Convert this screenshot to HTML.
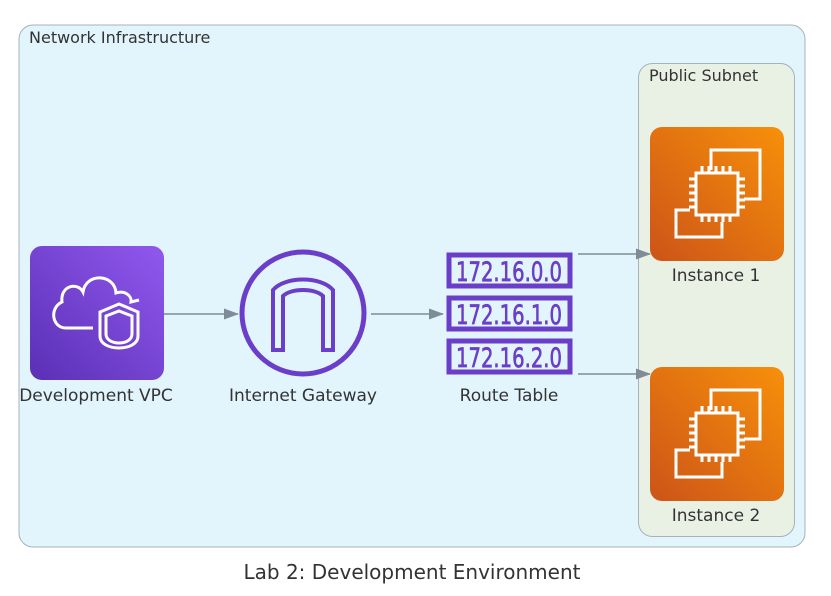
<!DOCTYPE html>
<html><head><meta charset="utf-8"><style>html,body{margin:0;padding:0;background:#fff}svg{display:block}text{font-family:"DejaVu Sans","Liberation Sans",sans-serif}</style></head><body>
<svg width="831" height="596" viewBox="0 0 831 596" xmlns="http://www.w3.org/2000/svg">
<defs>
<linearGradient id="gp" x1="0" y1="1" x2="1" y2="0"><stop offset="0" stop-color="#5a30b5"/><stop offset="1" stop-color="#9158ee"/></linearGradient>
<linearGradient id="go" x1="0" y1="1" x2="1" y2="0"><stop offset="0" stop-color="#cc5418"/><stop offset="1" stop-color="#f7900a"/></linearGradient>
<marker id="ar" markerWidth="15" markerHeight="11" refX="14" refY="5.5" orient="auto" markerUnits="userSpaceOnUse"><path d="M0,0 L15,5.5 L0,11z" fill="#7f8c97"/></marker>
<g id="ec2">
<rect width="134" height="134" rx="12" fill="url(#go)"/>
<g fill="none" stroke="#fff" stroke-width="3">
<path d="M61,43 V23 H110 V72 H94"/>
<path d="M72,95 V110 H26 V83 H40"/>
<rect x="46" y="46" width="42" height="42"/>
<path d="M52,46v-7M59,46v-7M66,46v-7M73,46v-7M80,46v-7M52,88v7M59,88v7M66,88v7M73,88v7M80,88v7M46,52h-7M46,59h-7M46,66h-7M46,73h-7M46,80h-7M88,52h7M88,59h7M88,66h7M88,73h7M88,80h7"/>
</g></g>
</defs>
<rect x="19" y="25" width="786" height="522" rx="14" fill="#e2f4fc" stroke="#a6b2bc"/>
<text x="29" y="43" font-size="16" fill="#333">Network Infrastructure</text>
<rect x="638.5" y="63.5" width="156" height="473" rx="14" fill="#e9f1e5" stroke="#a6b2bc"/>
<text x="649" y="81" font-size="16" fill="#333">Public Subnet</text>
<rect x="30" y="246" width="134" height="134" rx="12" fill="url(#gp)"/>
<g fill="none" stroke="#fff" stroke-width="3">
<path d="M93,328 H66 C52,328 49,308 62,302 C60,285 78,282 83,292 C86,272 115,274 116,293 C125,290 132,296 131,302 L139,300"/>
<path d="M100,312 L119,304 L138,312 V336 C138,352 100,352 100,336 Z"/>
<path d="M106,316 L119,311 L132,316 V334 C132,346 106,346 106,334 Z"/>
</g>
<text x="96" y="401" font-size="17" fill="#333" text-anchor="middle">Development VPC</text>
<circle cx="303" cy="313" r="61" fill="none" stroke="#6a3ec8" stroke-width="5"/>
<g fill="none" stroke="#6a3ec8" stroke-width="4"><path d="M273,350 V290 C285,276 321,276 333,290 V350 H323 V296 C315,288 291,288 283,296 V350 Z"/></g>
<text x="303" y="401" font-size="17" fill="#333" text-anchor="middle">Internet Gateway</text>
<g fill="none" stroke="#6a3ec8" stroke-width="5"><rect x="449" y="255" width="121" height="31"/><rect x="449" y="298" width="121" height="31"/><rect x="449" y="341" width="121" height="31"/></g>
<g font-size="27" fill="#6a3ec8" stroke="#6a3ec8" stroke-width="0.7" text-anchor="middle"><text x="509" y="281" textLength="106" lengthAdjust="spacingAndGlyphs">172.16.0.0</text><text x="509" y="324" textLength="106" lengthAdjust="spacingAndGlyphs">172.16.1.0</text><text x="509" y="367" textLength="106" lengthAdjust="spacingAndGlyphs">172.16.2.0</text></g>
<text x="509" y="401" font-size="17" fill="#333" text-anchor="middle">Route Table</text>
<use href="#ec2" x="650" y="127"/>
<text x="716" y="281" font-size="17" fill="#333" text-anchor="middle">Instance 1</text>
<use href="#ec2" x="650" y="367"/>
<text x="716" y="521" font-size="17" fill="#333" text-anchor="middle">Instance 2</text>
<g stroke="#7f8c97" stroke-width="1.5" marker-end="url(#ar)"><line x1="164" y1="314" x2="238" y2="314"/><line x1="371" y1="314" x2="443" y2="314"/><line x1="578" y1="254" x2="650" y2="254"/><line x1="578" y1="374" x2="650" y2="374"/></g>
<text x="412" y="579" font-size="20" fill="#333" text-anchor="middle">Lab 2: Development Environment</text>
</svg>
</body></html>
